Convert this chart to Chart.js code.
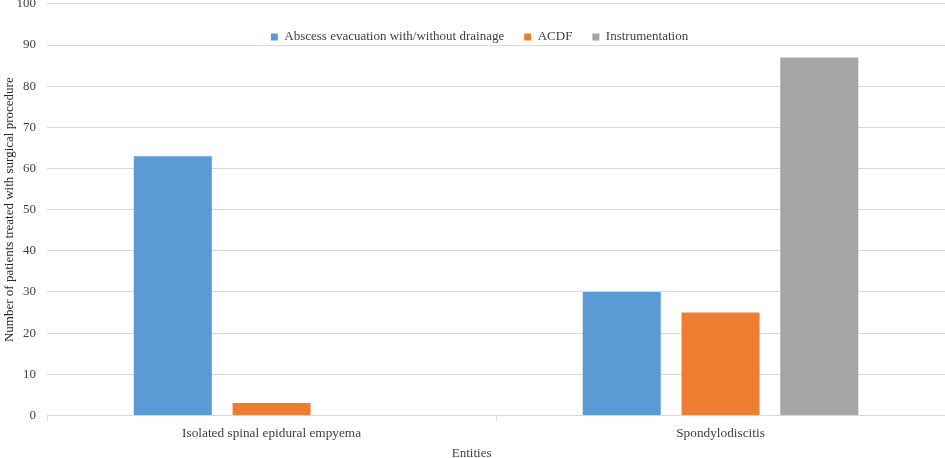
<!DOCTYPE html>
<html>
<head>
<meta charset="utf-8">
<script src="https://cdn.jsdelivr.net/npm/chart.js@4"></script>
<style>
  html, body { margin: 0; padding: 0; background: #fff; }
  #wrap { width: 945px; height: 458px; }
</style>
</head>
<body>
<div id="wrap"><canvas id="grafica"></canvas></div>
<script type="text/javascript">

    // Entidades
    var categorias = ["Isolated spinal epidural empyema", "Spondylodiscitis"]
    // Pacientes por procedimiento
    var abscessEvacuation = [63, 30]
    var acdf = [3, 25]
    var instrumentation = [0, 87]
    var yTicks = [0, 10, 20, 30, 40, 50, 60, 70, 80, 90, 100]

    var fuente = "'Liberation Serif', 'Times New Roman', serif"
    var gris = "#404040"
    var yLeyenda = 37
    var corrimientoLeyenda = 12

    var canvas = document.getElementById('grafica')
    var context = canvas.getContext('2d')

    // la leyenda va dentro del area del grafico, sin ocupar espacio
    var leyendaEncima = {
        id: "leyendaEncima",
        beforeInit: function (chart) {
            var leyenda = chart.legend
            var fitOriginal = leyenda.fit
            var drawOriginal = leyenda.draw
            leyenda.fit = function () {
                fitOriginal.call(this)
                this._altoReal = this.height
                this.height = 0
            }
            leyenda.draw = function () {
                var top = this.top, bottom = this.bottom, height = this.height, left = this.left
                var pad = this.options.labels.padding
                this.top = yLeyenda - pad - this.options.labels.font.size / 2
                this.height = this._altoReal
                this.bottom = this.top + this.height
                this.left = left + corrimientoLeyenda
                drawOriginal.call(this)
                this.top = top
                this.bottom = bottom
                this.height = height
                this.left = left
            }
        }
    }

    var datos = {
        labels: categorias,
        datasets: [{
            label: "Abscess evacuation with/without drainage",
            backgroundColor: "#5B9BD5",
            data: abscessEvacuation
        }, {
            label: "ACDF",
            backgroundColor: "#ED7D31",
            data: acdf
        }, {
            label: "Instrumentation",
            backgroundColor: "#A5A5A5",
            data: instrumentation
        }]
    }

    window.bar = new Chart(context, {
        type: "bar",
        data: datos,
        plugins: [leyendaEncima],
        options: {
            responsive: true,
            maintainAspectRatio: false,
            animation: false,
            devicePixelRatio: 1,
            categoryPercentage: 0.66,
            barPercentage: 0.79,
            layout: { padding: { top: 1, left: 2, right: 0, bottom: -3 } },
            plugins: {
                legend: {
                    position: "top",
                    align: "center",
                    labels: {
                        boxWidth: 7,
                        boxHeight: 7,
                        padding: 20,
                        color: gris,
                        font: { family: fuente, size: 13 }
                    }
                },
                tooltip: { enabled: false }
            },
            scales: {
                x: {
                    grid: {
                        offset: true,
                        drawOnChartArea: false,
                        drawTicks: true,
                        tickLength: 6,
                        color: "#d9d9d9"
                    },
                    border: { color: "#d9d9d9" },
                    ticks: {
                        color: gris,
                        padding: 4,
                        font: { family: fuente, size: 13.3 }
                    },
                    title: {
                        display: true,
                        // centrado sobre todo el lienzo, no sobre el eje
                        text: "Entities               ",
                        color: gris,
                        padding: { top: 0, bottom: 0 },
                        font: { family: fuente, size: 13 }
                    }
                },
                y: {
                    min: 0,
                    max: 100,
                    afterBuildTicks: function (eje) {
                        eje.ticks = yTicks.map(v => ({ value: v }))
                    },
                    grid: {
                        color: "#d9d9d9",
                        drawTicks: true,
                        tickLength: 11,
                        tickColor: "rgba(0,0,0,0)"
                    },
                    border: { display: false },
                    ticks: {
                        color: gris,
                        padding: 0,
                        font: { family: fuente, size: 13, lineHeight: 0.6 }
                    },
                    title: {
                        display: true,
                        text: "Number of patients treated with surgical procedure",
                        color: "#262626",
                        padding: { top: 0, bottom: -1 },
                        font: { family: fuente, size: 13 }
                    }
                }
            }
        }
    })

</script>
</body>
</html>
